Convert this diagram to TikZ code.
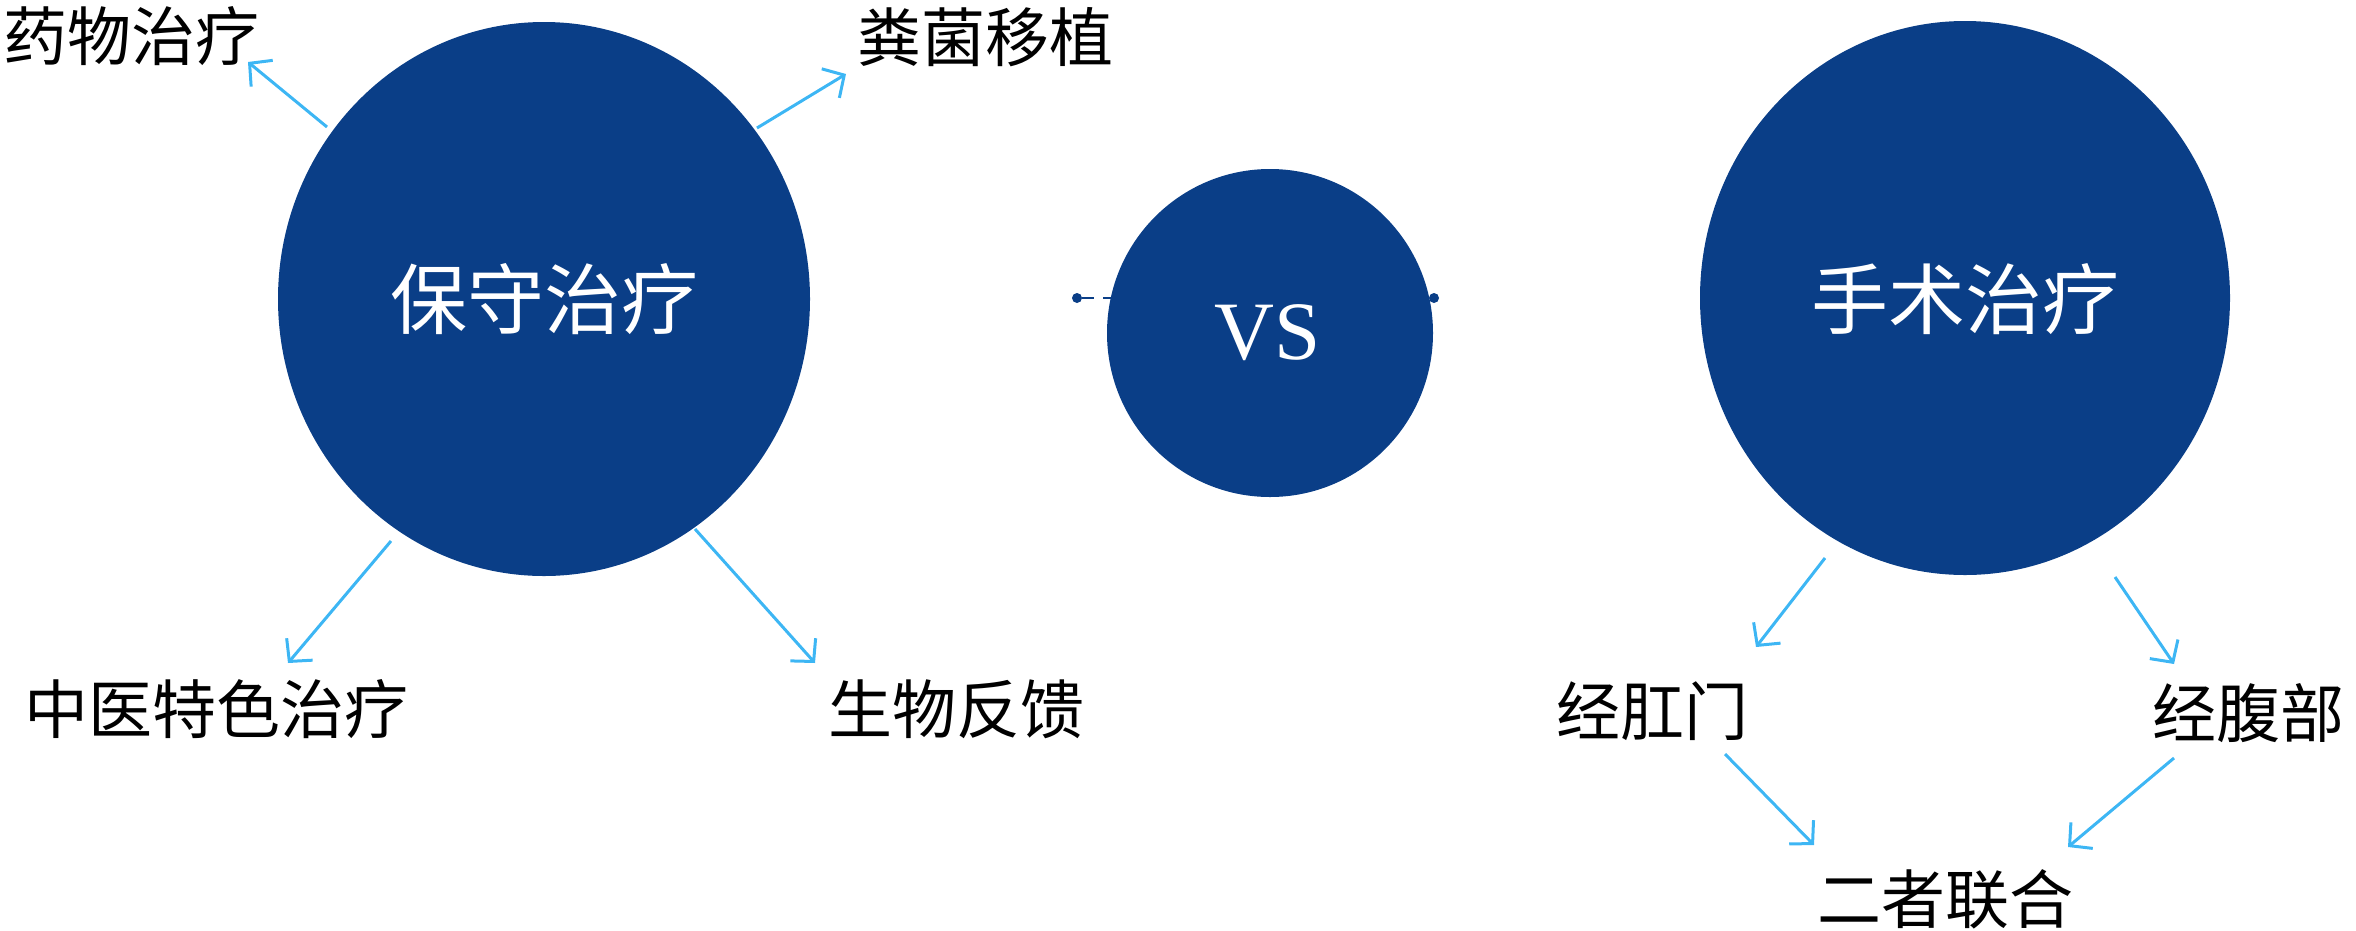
\documentclass[tikz,border=0pt]{standalone}
\usepackage{fontspec}
\newfontfamily\cjk{Noto Sans CJK SC}
\newfontfamily\vsfont{Liberation Serif}
\usetikzlibrary{arrows.meta,shapes.geometric}
\definecolor{navy}{HTML}{0A3E87}
\definecolor{sky}{HTML}{3DB6F4}
\begin{document}
\begin{tikzpicture}[x=1pt,y=-1pt,
  lbl/.style={inner sep=0pt, font=\cjk\fontsize{64}{70}\selectfont, text=black},
  ctext/.style={inner sep=0pt, font=\cjk\fontsize{77}{84}\selectfont, text=white},
  arr/.style={draw=sky, line width=3pt, -{Straight Barb[length=16pt,width=34pt,line width=3pt]}},
  dotend/.style={circle, fill=navy, inner sep=0pt, minimum size=10pt}]
\useasboundingbox (0,0) rectangle (2356,930);
% dashed link behind VS circle
\node[dotend] (dl) at (1077,298) {};
\node[dotend] (dr) at (1434,298) {};
\draw[navy, line width=2.5pt, dash pattern=on 12pt off 9pt] (dl) -- (dr);
% circles
\fill[navy] (544,299) ellipse [x radius=266, y radius=277];
\node[ctext] (L) at (544,299) {保守治疗};
\fill[navy] (1270,333) ellipse [x radius=163, y radius=164];
\node[inner sep=0pt, text=white, font=\vsfont\fontsize{83}{90}\selectfont] (VS) at (1268,333) {VS};
\fill[navy] (1965,298) ellipse [x radius=265, y radius=277];
\node[ctext] (R) at (1965,299) {手术治疗};
% labels
\node[lbl] (t1) at (132,36) {药物治疗};
\node[lbl] (t2) at (985,37) {粪菌移植};
\node[lbl] (t3) at (216,709) {中医特色治疗};
\node[lbl] (t4) at (956,709) {生物反馈};
\node[lbl] (t5) at (1652,711) {经肛门};
\node[lbl] (t6) at (2248,713) {经腹部};
\node[lbl] (t7) at (1945,899) {二者联合};
% arrow endpoints
\coordinate (a1s) at (327,127); \coordinate (a1e) at (248,62);
\coordinate (a2s) at (757,128); \coordinate (a2e) at (846,74);
\coordinate (a3s) at (391,541); \coordinate (a3e) at (288,663);
\coordinate (a4s) at (695,529); \coordinate (a4e) at (815,663);
\coordinate (a5s) at (1825,558); \coordinate (a5e) at (1756,647);
\coordinate (a6s) at (2115,577); \coordinate (a6e) at (2174,664);
\coordinate (a7s) at (1725,754); \coordinate (a7e) at (1814,845);
\coordinate (a8s) at (2174,758); \coordinate (a8e) at (2068,847);
\draw[arr] (a1s) -- (a1e);
\draw[arr] (a2s) -- (a2e);
\draw[arr] (a3s) -- (a3e);
\draw[arr] (a4s) -- (a4e);
\draw[arr] (a5s) -- (a5e);
\draw[arr] (a6s) -- (a6e);
\draw[arr] (a7s) -- (a7e);
\draw[arr] (a8s) -- (a8e);
\end{tikzpicture}
\end{document}
